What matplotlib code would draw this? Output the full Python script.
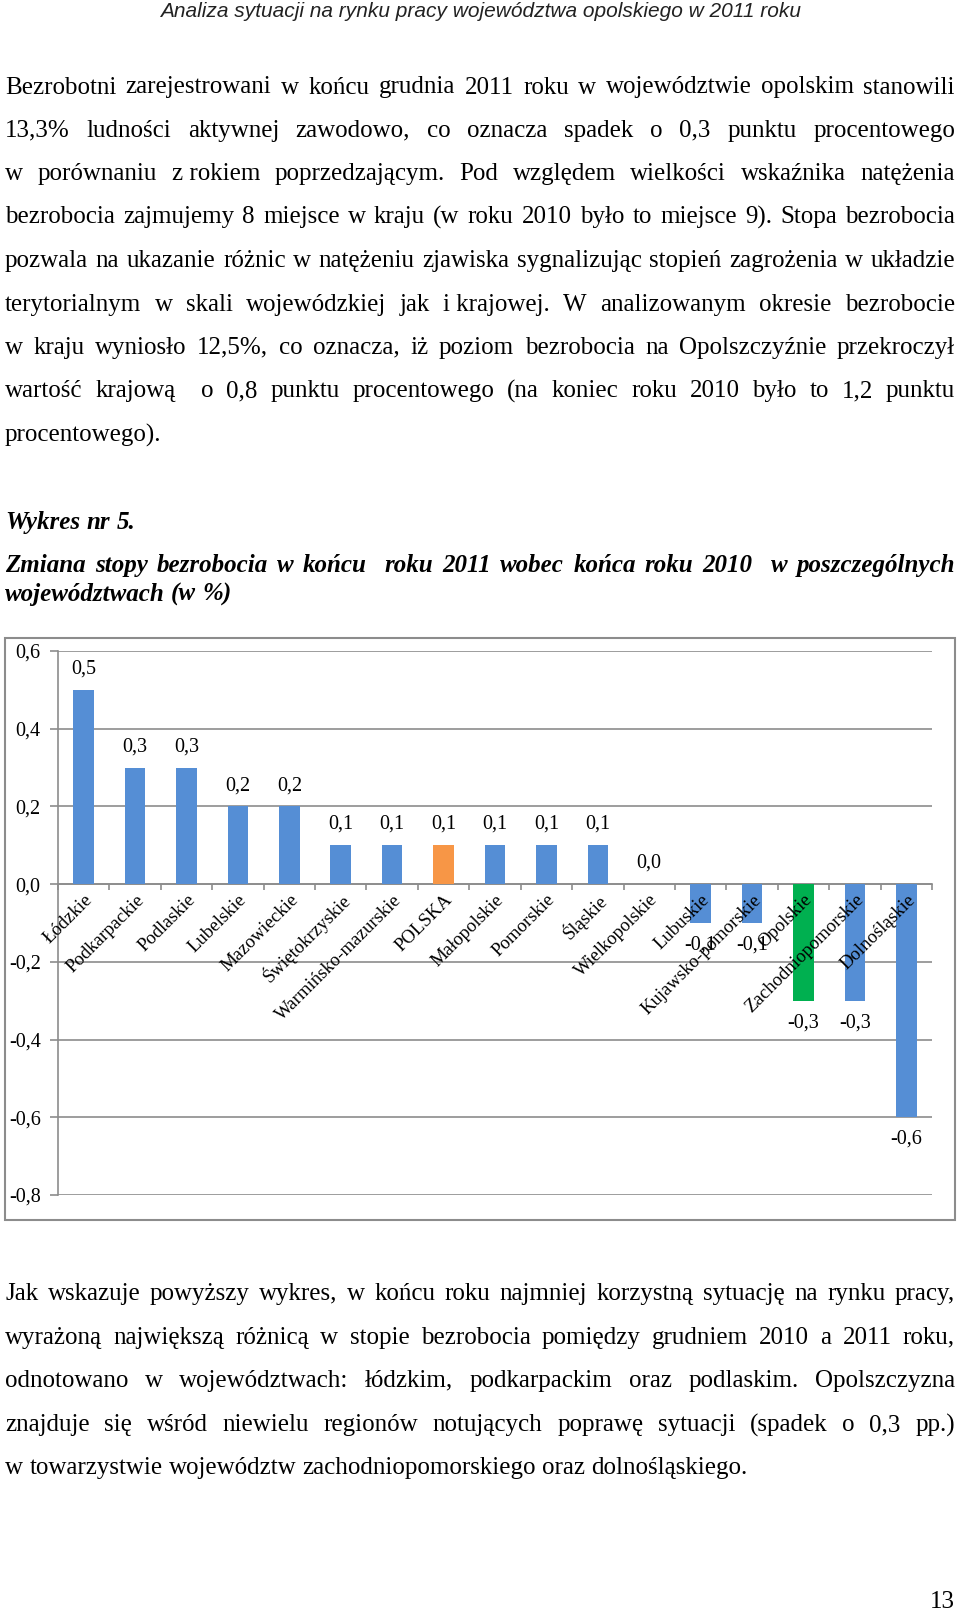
import numpy as np
import matplotlib
matplotlib.use("Agg")
import matplotlib.pyplot as plt
from matplotlib.patches import Rectangle

W, H = 960, 1613
SERIF = "Liberation Serif"

# page text
header = "Analiza sytuacji na rynku pracy województwa opolskiego w 2011 roku"
para1 = [
    "Bezrobotni zarejestrowani w końcu grudnia 2011 roku w województwie opolskim stanowili",
    "13,3% ludności aktywnej zawodowo, co oznacza spadek o 0,3 punktu procentowego",
    "w porównaniu z\u00a0rokiem poprzedzającym. Pod względem wielkości wskaźnika natężenia",
    "bezrobocia zajmujemy 8 miejsce w kraju (w roku 2010 było to miejsce 9). Stopa bezrobocia",
    "pozwala na ukazanie różnic w natężeniu zjawiska sygnalizując stopień zagrożenia w układzie",
    "terytorialnym w skali wojewódzkiej jak i\u00a0krajowej. W analizowanym okresie bezrobocie",
    "w kraju wyniosło 12,5%, co oznacza, iż poziom bezrobocia na Opolszczyźnie przekroczył",
    "wartość krajową  o 0,8 punktu procentowego (na koniec roku 2010 było to 1,2 punktu",
    "procentowego).",
]
para1_y = [87.5, 130.7, 173.9, 217.1, 261.4, 304.6, 347.8, 391.0, 435.2]
chart_label = "Wykres nr 5."
title = [
    "Zmiana stopy bezrobocia w końcu  roku 2011 wobec końca roku 2010  w poszczególnych",
    "województwach (w %)",
]
para2 = [
    "Jak wskazuje powyższy wykres, w końcu roku najmniej korzystną sytuację na rynku pracy,",
    "wyrażoną największą różnicą w stopie bezrobocia pomiędzy grudniem 2010 a 2011 roku,",
    "odnotowano w województwach: łódzkim, podkarpackim oraz podlaskim. Opolszczyzna",
    "znajduje się wśród niewielu regionów notujących poprawę sytuacji (spadek o 0,3 pp.)",
    "w towarzystwie województw zachodniopomorskiego oraz dolnośląskiego.",
]
para2_y = [1294.4, 1337.6, 1380.8, 1425.1, 1468.3]
page_no = "13"

# chart data
regions = ["Łódzkie", "Podkarpackie", "Podlaskie", "Lubelskie", "Mazowieckie",
           "Świętokrzyskie", "Warmińsko-mazurskie", "POLSKA", "Małopolskie",
           "Pomorskie", "Śląskie", "Wielkopolskie", "Lubuskie",
           "Kujawsko-pomorskie", "Opolskie", "Zachodniopomorskie", "Dolnośląskie"]
change = [0.5, 0.3, 0.3, 0.2, 0.2, 0.1, 0.1, 0.1, 0.1, 0.1, 0.1, 0.0,
          -0.1, -0.1, -0.3, -0.3, -0.6]
yticks = [-0.8, -0.6, -0.4, -0.2, 0.0, 0.2, 0.4, 0.6]

BLUE, ORANGE, GREEN = "#558ED5", "#F79646", "#00B050"
colors = [ORANGE if r == "POLSKA" else GREEN if r == "Opolskie" else BLUE for r in regions]

fig = plt.figure(figsize=(W / 100, H / 100), dpi=100)
renderer = fig.canvas.get_renderer()


def fy(py):
    return 1 - py / H


def line_of_text(line, py, justify=True, x0=5, x1=955, fs=18, **kw):
    # justified line: words spread so the line fills x0..x1
    words = line.split(" ")
    objs, widths = [], []
    for w in words:
        if w == "":
            objs.append(None)
            widths.append(0.0)
            continue
        t = fig.text(0, fy(py), w, fontsize=fs, family=SERIF, va="center", ha="left", **kw)
        objs.append(t)
        widths.append(t.get_window_extent(renderer).width)
    if justify and len(words) > 1:
        gap = (x1 - x0 - sum(widths)) / (len(words) - 1)
    else:
        gap = fs * 100 / 72 * 0.25
    x = x0
    for t, w in zip(objs, widths):
        if t is not None:
            t.set_x(x / W)
        x += w + gap


fig.text(481 / W, fy(11.5), header, fontsize=15, family="Liberation Sans",
         style="italic", ha="center", va="center", color="#222222")

for i, (ln, py) in enumerate(zip(para1, para1_y)):
    line_of_text(ln, py, justify=i < len(para1) - 1)

line_of_text(chart_label, 522.7, justify=False, weight="bold", style="italic")
line_of_text(title[0], 565.9, justify=True, weight="bold", style="italic")
line_of_text(title[1], 594.7, justify=False, weight="bold", style="italic")

for i, (ln, py) in enumerate(zip(para2, para2_y)):
    line_of_text(ln, py, justify=i < len(para2) - 1)

fig.text(955 / W, fy(1602), page_no, fontsize=18, family=SERIF, ha="right", va="center")

# chart frame
fig.patches.append(Rectangle((5 / W, fy(1220)), 950 / W, (1220 - 638) / H,
                             transform=fig.transFigure, fill=False,
                             edgecolor="#8C8C8C", lw=1.5))

ax = fig.add_axes([58 / W, fy(1195), 874 / W, 544 / H])
x = np.arange(len(regions))
ax.bar(x, change, width=0.4, color=colors, zorder=3)
ax.set_xlim(-0.5, len(regions) - 0.5)
ax.set_ylim(-0.8, 0.6)
ax.set_yticks(yticks)
ax.set_yticklabels([f"{v:.1f}".replace(".", ",") for v in yticks],
                   family=SERIF, fontsize=14.5)
ax.yaxis.grid(True, color="#8C8C8C", lw=1.2, zorder=0)
ax.set_axisbelow(True)
for s in ["top", "right"]:
    ax.spines[s].set_visible(False)
ax.spines["left"].set_color("#8C8C8C")
ax.spines["left"].set_linewidth(1.2)
ax.spines["bottom"].set_position(("data", 0))
ax.spines["bottom"].set_color("#8C8C8C")
ax.spines["bottom"].set_linewidth(1.2)
ax.set_xticks(np.arange(-0.5, len(regions), 1))
ax.set_xticklabels([])
ax.tick_params(axis="x", direction="out", length=4, color="#8C8C8C", width=1.2)
ax.tick_params(axis="y", direction="out", length=6, color="#8C8C8C", width=1.2, pad=6.5)
ax.set_facecolor("none")

for i, (r, v) in enumerate(zip(regions, change)):
    lbl = f"{v:.1f}".replace(".", ",")
    off = 15 if v >= 0 else -16
    ax.annotate(lbl, (i, v), xytext=(0, off), textcoords="offset points",
                ha="center", va="center", family=SERIF, fontsize=14.5, zorder=5)
    ax.text(i + 0.12, -0.034, r, rotation=45, rotation_mode="anchor",
            ha="right", va="center", family=SERIF, fontsize=13.5, zorder=6)

fig.savefig("out.png", dpi=100)
